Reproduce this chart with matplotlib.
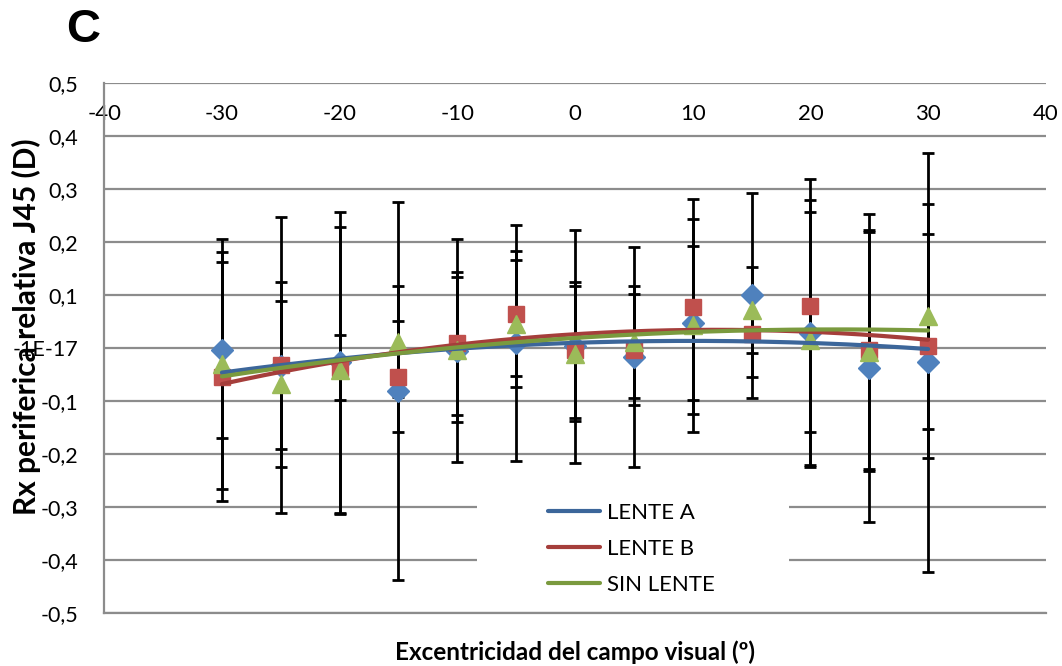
import numpy as np
import matplotlib
matplotlib.use("Agg")
import matplotlib.pyplot as plt
from matplotlib.patches import Rectangle

# ---- data ----
x_deg = [-30, -25, -20, -15, -10, -5, 0, 5, 10, 15, 20, 25, 30]
lente_a = [-0.003, -0.033, -0.027, -0.081, -0.005, 0.009, 0.003, -0.017, 0.047, 0.099, 0.029, -0.038, -0.027]
lente_a_sd = [0.166, 0.157, 0.284, 0.356, 0.210, 0.222, 0.220, 0.208, 0.145, 0.193, 0.250, 0.290, 0.395]
lente_b = [-0.054, -0.032, -0.037, -0.054, 0.009, 0.065, -0.004, -0.003, 0.078, 0.026, 0.080, -0.003, 0.003]
lente_b_sd = [0.235, 0.279, 0.061, 0.104, 0.135, 0.118, 0.128, 0.105, 0.202, 0.080, 0.239, 0.225, 0.211]
sin_lente = [-0.030, -0.068, -0.042, 0.012, -0.003, 0.046, -0.011, 0.011, 0.043, 0.072, 0.016, -0.007, 0.060]
sin_lente_sd = [0.235, 0.157, 0.270, 0.105, 0.137, 0.119, 0.127, 0.106, 0.201, 0.081, 0.240, 0.225, 0.212]
series_names = ["LENTE A", "LENTE B", "SIN LENTE"]
x_ticks = [-40, -30, -20, -10, 0, 10, 20, 30, 40]
y_ticks = [-0.5, -0.4, -0.3, -0.2, -0.1, 0.0, 0.1, 0.2, 0.3, 0.4, 0.5]
y_tick_labels = ["-0,5", "-0,4", "-0,3", "-0,2", "-0,1", "-1E-17", "0,1", "0,2", "0,3", "0,4", "0,5"]

marker_colors = ["#4F81BD", "#C0504D", "#9BBB59"]
line_colors = ["#3C669A", "#A53E3B", "#7A9A3E"]
markers = ["D", "s", "^"]
msizes = [11, 11, 13.5]

plt.rcParams["font.family"] = ["Lato", "DejaVu Sans"]

fig = plt.figure(figsize=(10.62, 6.66), dpi=100)
ax = fig.add_axes([0.0982, 0.0791, 0.8865, 0.7967])

xs = np.array(x_deg, dtype=float)
means = [lente_a, lente_b, sin_lente]
sds = [lente_a_sd, lente_b_sd, sin_lente_sd]

# error bars
for m, s in zip(means, sds):
    ax.errorbar(xs, m, yerr=s, fmt="none", ecolor="black", elinewidth=2.0,
                capsize=4.3, capthick=2.0, zorder=2)
# markers
for m, c, mk, ms in zip(means, marker_colors, markers, msizes):
    ax.plot(xs, m, linestyle="none", marker=mk, markersize=ms, color=c,
            markeredgecolor=c, zorder=3)
# polynomial (order 2) trend lines
handles = []
xf = np.linspace(xs.min(), xs.max(), 200)
for m, c, name in zip(means, line_colors, series_names):
    coef = np.polyfit(xs, m, 2)
    h, = ax.plot(xf, np.polyval(coef, xf), color=c, linewidth=3.0,
                 solid_capstyle="round", zorder=4, label=name)
    handles.append(h)

ax.set_xlim(-40, 40)
ax.set_ylim(-0.5, 0.5)
ax.set_yticks(y_ticks, labels=y_tick_labels)
ax.set_xticks(x_ticks, labels=[str(v) for v in x_ticks])

ax.tick_params(axis="y", length=0, pad=19, labelsize=15.5)
ax.tick_params(axis="x", length=0, top=True, bottom=False, labeltop=True,
               labelbottom=False, pad=-30, labelsize=16)

ax.grid(axis="y", color="#8C8C8C", linewidth=1.6)
ax.set_axisbelow(True)
for side in ["top", "right"]:
    ax.spines[side].set_visible(False)
for side in ["left", "bottom"]:
    ax.spines[side].set_color("#8C8C8C")
    ax.spines[side].set_linewidth(1.6)

# white area behind legend (hides gridlines)
ax.add_patch(Rectangle((0.396, 0.025), 0.331, 0.245, transform=ax.transAxes,
                       facecolor="white", edgecolor="none", zorder=1))

leg = fig.legend(handles=handles, loc="center", bbox_to_anchor=(0.5946, 0.1757),
                 frameon=False, fontsize=16, handlelength=2.35, handletextpad=0.32,
                 labelspacing=0.72, borderpad=0)

ax.set_xlabel("Excentricidad del campo visual (º)", fontsize=17.5, fontweight="bold")
ax.xaxis.set_label_coords(0.5, -0.073)
ax.xaxis.label.set_va("center")
ax.set_ylabel("Rx periferica relativa J45 (D)", fontsize=21.5, fontweight="bold")
ax.yaxis.set_label_coords(-0.083, 0.54)
ax.yaxis.label.set_va("center")

fig.text(83 / 1062, 1 - 30 / 666, "C", fontsize=34, fontweight="bold",
         family=["Liberation Sans", "DejaVu Sans"], ha="center", va="center")

fig.savefig("out.png", dpi=100)
